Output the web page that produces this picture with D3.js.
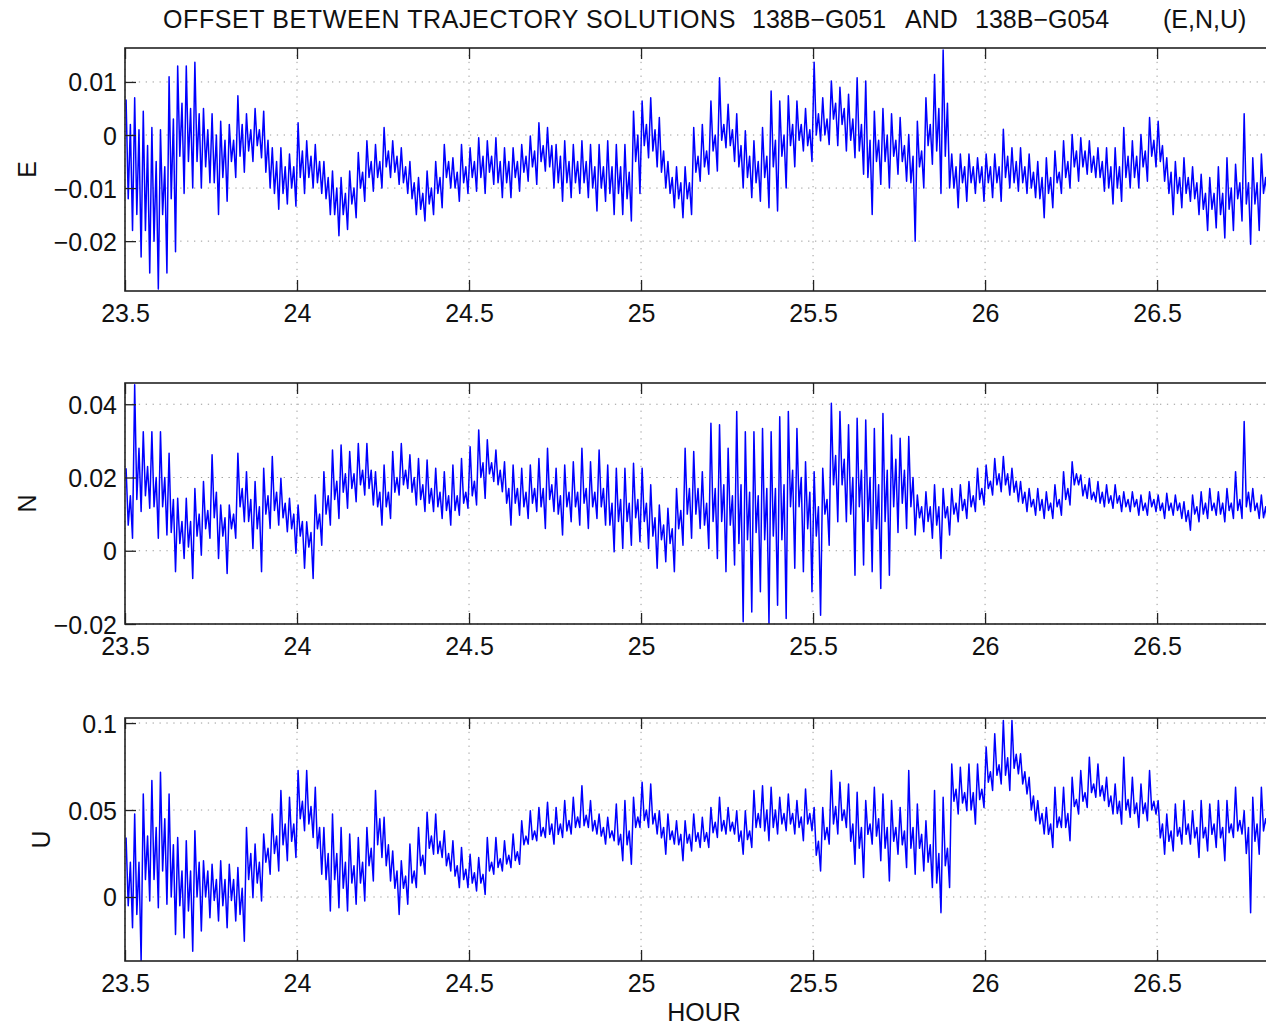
<!DOCTYPE html>
<meta charset="utf-8">
<script src="https://d3js.org/d3.v7.min.js"></script>
<style>
    body { margin: 0; background: #fff; }
    text { font-family: "Liberation Sans", Arial, Helvetica, sans-serif; fill: #111; }
</style>
<div id="chart"></div>
<script>
// ---- data: one value per 0.025 h bin starting at 23.5 h
// high / low = spike extremes (m), coreHigh / coreLow = edges of the dense band (mm)
const hourStart = 23.5, hourStep = 0.025;
const hourTicks = [23.5, 24, 24.5, 25, 25.5, 26, 26.5];

const eHigh = [0.0067, 0.007, 0.0045, 0.0014, 0.001, 0.011, 0.013, 0.013, 0.0137, 0.005, 0.004, 0.0026, 0.002, 0.0074, 0.004, 0.005, 0.0045, -0.0024, -0.0024, -0.0036,
  0.0023, -0.0011, -0.0018, -0.005, -0.0068, -0.008, -0.0068, -0.0033, -0.0011, -0.0018, 0.0014, -0.0011, -0.0024, -0.005, -0.008, -0.0068, -0.005, -0.0018,
  -0.0043, -0.0018, -0.0024, -0.0005, -0.0011, -0.0005, -0.0024, -0.0024, -0.0018, -0.0002, 0.0023, 0.0014, -0.0018, -0.0011, -0.0018, -0.0011, -0.0018, -0.0018, -0.0011, -0.0018,
  -0.0018, 0.0045, 0.0064, 0.007, 0.0033, -0.005, -0.006, -0.006, 0.0014, 0.002, 0.0064, 0.0108, 0.0058, 0.004, 0.0008, -0.0011, 0.0014, 0.0083, 0.0064, 0.0074, 0.0064, 0.005,
  0.0137, 0.007, 0.0102, 0.009, 0.0077, 0.0108,
  0.0102, 0.0045, 0.005, 0.004, 0.0033, 0.0001, 0.0026, 0.007, 0.0114, 0.016, -0.0036, -0.0036, -0.0036, -0.0043, -0.0036, -0.0036, 0.0011, -0.0024, -0.0024, -0.0036,
  -0.005, -0.0043, -0.003, -0.0011, 0.0001, -0.0005, -0.0011, -0.0024, -0.0024, -0.0024, 0.0014, -0.0011, 0.0001, 0.0033, 0.0026, -0.0043, -0.005, -0.0043, -0.006, -0.0074,
  -0.008, -0.006, -0.0043, -0.0055, 0.004, -0.0043, -0.0036];
const eLow = [-0.018, -0.023, -0.026, -0.029, -0.026, -0.022, -0.011, -0.01, -0.01, -0.009, -0.015, -0.0125, -0.008, -0.007, -0.005, -0.0043, -0.01, -0.014, -0.013, -0.0134,
  -0.011, -0.01, -0.011, -0.015, -0.019, -0.0178, -0.0156, -0.0125, -0.0106, -0.01, -0.008, -0.0093, -0.011, -0.015, -0.0162, -0.015, -0.0137, -0.01,
  -0.0125, -0.011, -0.0106, -0.011, -0.0093, -0.0118, -0.0118, -0.0106, -0.0087, -0.0093, -0.0068, -0.01, -0.0125, -0.0118, -0.011, -0.0118, -0.0143, -0.0125, -0.015, -0.015,
  -0.0162, -0.011, -0.0043, -0.006, -0.01, -0.0137, -0.0156, -0.015, -0.0087, -0.0074, -0.0068, -0.0024, -0.005, -0.01, -0.0118, -0.0125, -0.0137, -0.0143, -0.01, -0.006,
  -0.003, -0.005, -0.0011, -0.0018, -0.002, -0.003, -0.0043, -0.0074,
  -0.015, -0.0093, -0.01, -0.0074, -0.0087, -0.02, -0.01, -0.0055, -0.011, -0.01, -0.0137, -0.0125, -0.011, -0.0125, -0.0118, -0.0125, -0.01, -0.0106, -0.011, -0.0118,
  -0.0156, -0.0137, -0.011, -0.01, -0.0087, -0.0074, -0.008, -0.0106, -0.013, -0.0125, -0.01, -0.01, -0.0087, -0.006, -0.0087, -0.015, -0.0137, -0.0125, -0.015, -0.018,
  -0.0175, -0.0194, -0.018, -0.0162, -0.0206, -0.018, -0.0137];
const eCoreHigh = [2, 1, -2, -5, -6, 3, 6, 5, 4, 1, 0, -1, -1, 2, 1, 1, -1, -5, -6, -6,
  -3, -4, -5, -8, -10, -11, -10, -7, -5, -5, -3, -4, -6, -9, -11, -10, -8, -5,
  -7, -6, -5, -4, -4, -5, -5, -5, -4, -3, -2, -2, -4, -5, -5, -5, -6, -6, -6, -6,
  -7, 0, 2, 1, -3, -8, -9, -9, -4, -3, 0, 2, 1, -2, -4, -5, -4, -1, 0, 2, 2, 1, 4, 3, 6, 5, 3, 2,
  -1, -1, 0, -1, -2, -4, -3, 2, 5, 6, -6, -6, -6, -6, -6, -6, -4, -5, -6, -7,
  -8, -8, -7, -5, -3, -3, -4, -5, -6, -6, -4, -4, -3, -1, -2, -7, -8, -8, -9, -11, -11, -11, -10, -9, -9, -9, -8];
const eCoreLow = [-12, -15, -18, -20, -15, -12, -4, -5, -5, -6, -9, -8, -5, -4, -3, -2, -7, -11, -11, -10,
  -8, -8, -9, -12, -15, -15, -13, -10, -8, -8, -6, -7, -9, -12, -14, -13, -11, -8,
  -10, -9, -8, -8, -7, -9, -9, -8, -7, -6, -5, -6, -9, -9, -9, -9, -10, -10, -11, -11,
  -12, -5, -2, -3, -7, -11, -12, -12, -7, -6, -3, -1, -2, -6, -8, -9, -8, -6, -4, -2, -1, -2, 0, 0, 3, 2, -1, -3,
  -8, -5, -5, -4, -5, -9, -6, -2, -3, -4, -10, -9, -9, -9, -9, -9, -8, -9, -9, -10,
  -12, -11, -9, -8, -6, -6, -7, -8, -10, -10, -8, -8, -6, -4, -5, -11, -11, -11, -12, -14, -14, -15, -14, -12, -13, -13, -11];

const nHigh = [0.0225, 0.0453, 0.0325, 0.0325, 0.0325, 0.0266, 0.0143, 0.0143, 0.017, 0.0189, 0.0262, 0.0125, 0.0125, 0.0266, 0.0216, 0.0189, 0.0225, 0.0257, 0.0198, 0.0143,
  0.0125, 0.0079, 0.0152, 0.0216, 0.0275, 0.0289, 0.0271, 0.0293, 0.0293, 0.0216, 0.0234, 0.0271, 0.0293, 0.0262, 0.0252, 0.0248, 0.0225, 0.0216,
  0.0234, 0.0252, 0.0284, 0.033, 0.0303, 0.0275, 0.0243, 0.0234, 0.0225, 0.0234, 0.0252, 0.028, 0.0225, 0.0234, 0.0243, 0.028, 0.0243, 0.0275, 0.0234, 0.0225,
  0.0225, 0.0239, 0.0225, 0.018, 0.0125, 0.0116, 0.017, 0.028, 0.0271, 0.0216, 0.0348, 0.0344, 0.028, 0.038, 0.0325, 0.0325, 0.0334, 0.0325, 0.0366, 0.038,
  0.0334, 0.0243, 0.0216, 0.0225, 0.0403, 0.038, 0.0344, 0.0362,
  0.0357, 0.0334, 0.0375, 0.0316, 0.0307, 0.0312, 0.0152, 0.0161, 0.018, 0.017, 0.017, 0.018, 0.0189, 0.0225, 0.0234, 0.0252, 0.0257, 0.0225, 0.0189, 0.017,
  0.017, 0.0161, 0.018, 0.0216, 0.0243, 0.0207, 0.0198, 0.0189, 0.018, 0.018, 0.0161, 0.0161, 0.0152, 0.0161, 0.0152, 0.0157, 0.0152, 0.0134, 0.0152, 0.0161,
  0.017, 0.0161, 0.017, 0.0216, 0.0353, 0.017, 0.0152];
const nLow = [0.0034, 0.0107, 0.0116, 0.0034, 0.0043, -0.0057, -0.0021, -0.0076, -0.0012, 0.0034, -0.0021, -0.0062, 0.0034, 0.0079, 0.0006, -0.0057, 0.0061, 0.007, 0.0052, -0.0007,
  -0.0048, -0.0076, 0.0015, 0.007, 0.0088, 0.0116, 0.0134, 0.0152, 0.0125, 0.007, 0.0088, 0.0152, 0.017, 0.0125, 0.0107, 0.0107, 0.0088, 0.007,
  0.0097, 0.0116, 0.0125, 0.0143, 0.0189, 0.0161, 0.007, 0.0097, 0.0088, 0.0107, 0.0061, 0.0107, 0.0043, 0.0079, 0.007, 0.0061, 0.0088, 0.007, -0.0003, 0.0006,
  0.0015, 0.0025, 0.0006, -0.0048, -0.003, -0.0057, 0.0015, 0.0034, 0.0061, 0.0006, -0.0021, -0.0057, -0.0039, -0.0194, -0.0167, -0.0112, -0.0199, -0.0149, -0.0185, -0.0048,
  -0.0057, -0.0112, -0.0176, 0.0015, 0.0079, 0.0079, -0.0067, -0.0039,
  -0.0057, -0.0103, -0.0067, 0.005, 0.0061, 0.0043, 0.0052, 0.0034, -0.0021, 0.0043, 0.0079, 0.0088, 0.0107, 0.0125, 0.0152, 0.0161, 0.0152, 0.0134, 0.0107, 0.0097,
  0.0088, 0.0088, 0.0097, 0.0125, 0.018, 0.0143, 0.0134, 0.012, 0.0116, 0.0107, 0.0107, 0.0097, 0.0097, 0.0107, 0.0088, 0.0097, 0.0088, 0.0056, 0.0079, 0.0088,
  0.0097, 0.0079, 0.0088, 0.0088, 0.0107, 0.0088, 0.0061];
const nCoreHigh = [15, 28, 23, 20, 20, 14, 8, 8, 10, 11, 16, 9, 10, 17, 14, 12, 15, 16, 13, 10,
  8, 5, 10, 15, 19, 21, 21, 22, 22, 16, 16, 20, 22, 20, 18, 17, 16, 15,
  15, 16, 19, 24, 24, 22, 17, 17, 16, 17, 17, 18, 15, 16, 16, 17, 16, 17, 13, 14,
  13, 14, 13, 9, 7, 6, 11, 17, 17, 13, 17, 18, 15, 18, 16, 15, 17, 17, 18, 22, 20, 16, 12, 14, 26, 25, 20, 22,
  20, 18, 22, 25, 22, 20, 12, 12, 12, 12, 13, 14, 15, 17, 19, 21, 21, 19, 16, 14,
  14, 13, 14, 17, 21, 18, 16, 16, 15, 15, 14, 14, 13, 14, 13, 13, 13, 11, 12, 13, 13, 13, 13, 14, 16, 13, 12];
const nCoreLow = [7, 14, 15, 12, 12, 5, 2, 1, 4, 6, 9, 4, 6, 12, 8, 6, 10, 11, 9, 6,
  4, 1, 6, 10, 14, 16, 17, 18, 17, 12, 12, 16, 18, 16, 14, 13, 12, 11,
  11, 13, 15, 20, 21, 18, 13, 13, 12, 13, 12, 14, 10, 12, 12, 13, 12, 12, 7, 8,
  8, 9, 8, 4, 3, 2, 6, 10, 10, 7, 8, 8, 7, 2, 3, 5, 3, 4, 3, 12, 12, 6, 4, 10, 18, 18, 10, 12,
  8, 6, 8, 12, 13, 12, 9, 8, 7, 9, 10, 11, 12, 14, 17, 18, 18, 16, 13, 12,
  11, 11, 12, 14, 18, 15, 14, 13, 13, 13, 12, 12, 11, 12, 11, 11, 11, 8, 10, 10, 11, 10, 11, 11, 12, 11, 9];

const uHigh = [0.0342, 0.0477, 0.0592, 0.0669, 0.0717, 0.0592, 0.0342, 0.0323, 0.0381, 0.0208, 0.0188, 0.0208, 0.0188, 0.0169, 0.04, 0.0304, 0.0362, 0.0477, 0.0612, 0.0573,
  0.0727, 0.0727, 0.0631, 0.04, 0.0477, 0.04, 0.0362, 0.0342, 0.04, 0.0612, 0.0458, 0.0265, 0.0208, 0.0304, 0.04, 0.0487, 0.0477, 0.0381,
  0.0323, 0.0285, 0.0246, 0.0227, 0.0342, 0.0342, 0.0323, 0.0362, 0.0438, 0.0496, 0.0515, 0.0544, 0.0515, 0.0554, 0.0573, 0.064, 0.0554, 0.0477, 0.0458, 0.0535,
  0.0554, 0.0573, 0.066, 0.065, 0.0496, 0.0477, 0.0438, 0.0438, 0.0477, 0.0458, 0.0515, 0.0573, 0.0515, 0.0496, 0.0496, 0.0612, 0.064, 0.0631, 0.0573, 0.0592,
  0.0554, 0.0621, 0.0515, 0.0515, 0.0727, 0.066, 0.065, 0.0602,
  0.0554, 0.0631, 0.0592, 0.0554, 0.0515, 0.0727, 0.0535, 0.0438, 0.0612, 0.0573, 0.0765, 0.0746, 0.0765, 0.0765, 0.0862, 0.0938, 0.1015, 0.1015, 0.0823, 0.0688,
  0.0554, 0.0515, 0.0631, 0.0631, 0.0688, 0.0727, 0.0804, 0.0765, 0.0688, 0.065, 0.0804, 0.0688, 0.065, 0.0727, 0.0554, 0.0477, 0.0535, 0.0554, 0.0496, 0.0554,
  0.0535, 0.0554, 0.0554, 0.0631, 0.0496, 0.0573, 0.0631];
const uLow = [-0.0177, -0.0369, -0.0023, -0.0062, -0.0042, -0.0215, -0.0235, -0.0312, -0.0196, -0.0119, -0.0138, -0.0177, -0.0138, -0.0254, -0.0004, -0.0023, 0.0131, 0.015, 0.0208, 0.0227,
  0.0381, 0.0342, 0.0131, -0.0081, -0.0062, -0.0081, -0.0042, -0.0023, 0.0092, 0.0227, 0.0092, -0.01, -0.0042, 0.0054, 0.0131, 0.0246, 0.0227, 0.015,
  0.0054, 0.0054, 0.0035, 0.0015, 0.0131, 0.015, 0.0169, 0.0188, 0.0304, 0.0323, 0.0342, 0.0304, 0.0342, 0.0362, 0.04, 0.04, 0.0362, 0.0304, 0.0323, 0.0208,
  0.0188, 0.04, 0.04, 0.0362, 0.0246, 0.0304, 0.0208, 0.0265, 0.0285, 0.0285, 0.0342, 0.0362, 0.0362, 0.0246, 0.0285, 0.04, 0.0323, 0.0362, 0.0381, 0.0362,
  0.0323, 0.0381, 0.015, 0.0304, 0.0362, 0.04, 0.0188, 0.0112,
  0.0304, 0.0208, 0.0092, 0.0246, 0.0169, 0.0131, 0.015, 0.0054, -0.009, 0.0054, 0.0477, 0.0496, 0.0419, 0.0515, 0.0612, 0.065, 0.0612, 0.0708, 0.0592, 0.0438,
  0.0362, 0.0285, 0.04, 0.0323, 0.0477, 0.0515, 0.0573, 0.0554, 0.0477, 0.0419, 0.0458, 0.04, 0.0438, 0.0477, 0.0246, 0.0265, 0.0304, 0.0304, 0.0227, 0.0265,
  0.0285, 0.0208, 0.0342, 0.0362, -0.009, 0.0246, 0.0381];
const uCoreHigh = [20, 20, 35, 40, 45, 30, 15, 15, 20, 15, 10, 10, 10, 5, 25, 20, 28, 35, 42, 42,
  55, 52, 40, 25, 25, 20, 18, 20, 28, 45, 30, 15, 12, 15, 24, 35, 32, 25,
  18, 16, 14, 13, 20, 22, 24, 26, 35, 38, 40, 42, 42, 44, 46, 47, 44, 40, 38, 36,
  38, 46, 50, 48, 40, 38, 36, 36, 37, 37, 43, 44, 43, 38, 38, 48, 50, 50, 48, 48, 46, 48, 32, 40, 52, 50, 42, 40,
  42, 45, 40, 40, 38, 40, 36, 30, 25, 28, 62, 60, 60, 62, 72, 76, 80, 82, 72, 58,
  48, 42, 46, 48, 56, 60, 65, 64, 58, 55, 56, 54, 54, 55, 42, 38, 40, 42, 40, 40, 42, 40, 42, 44, 40, 42, 45];
const uCoreLow = [-5, -10, 10, 10, 15, 0, -5, -8, 0, 0, -2, -5, -2, -10, 10, 8, 20, 25, 30, 32,
  45, 42, 28, 10, 10, 5, 8, 8, 18, 30, 18, 5, 5, 8, 18, 28, 25, 18,
  12, 10, 8, 8, 15, 17, 19, 21, 30, 33, 35, 36, 36, 38, 40, 41, 38, 35, 34, 30,
  30, 40, 44, 42, 34, 33, 30, 31, 32, 32, 37, 38, 38, 32, 33, 40, 38, 40, 42, 42, 40, 42, 24, 33, 42, 44, 32, 28,
  36, 35, 28, 32, 30, 28, 28, 20, 8, 18, 55, 54, 50, 56, 66, 70, 70, 74, 65, 50,
  42, 36, 40, 40, 52, 55, 60, 58, 52, 48, 50, 48, 48, 50, 34, 32, 35, 36, 34, 34, 36, 34, 37, 38, 25, 32, 38];

const eTicks = [-0.02, -0.01, 0, 0.01];
const nTicks = [-0.02, 0, 0.02, 0.04];
const uTicks = [0, 0.05, 0.1];

const titleParts = ["OFFSET BETWEEN TRAJECTORY SOLUTIONS", "138B\u2212G051", "AND", "138B\u2212G054", "(E,N,U)"];

// ---- layout
const W = 1266, H = 1027;
const left = 125, right = 1283;
const fontSize = 25;

const panels = [
    {label: "E", high: eHigh, low: eLow, coreHigh: eCoreHigh, coreLow: eCoreLow, ticks: eTicks, domain: [-0.0294, 0.0164], top: 48, bottom: 291},
    {label: "N", high: nHigh, low: nLow, coreHigh: nCoreHigh, coreLow: nCoreLow, ticks: nTicks, domain: [-0.0200, 0.0458], top: 383, bottom: 624},
    {label: "U", high: uHigh, low: uLow, coreHigh: uCoreHigh, coreLow: uCoreLow, ticks: uTicks, domain: [-0.0368, 0.1029], top: 718, bottom: 961}
];

const svg = d3.select("#chart").append("svg")
    .attr("width", W).attr("height", H)
    .style("font-size", fontSize + "px");

const x = d3.scaleLinear().domain([23.5, 26.866]).range([left, right]);

const fmt = v => v === 0 ? "0" : String(v).replace("-", "\u2212");

panels.forEach(function(p, k) {
    const y = d3.scaleLinear().domain(p.domain).range([p.bottom, p.top]);
    const g = svg.append("g");

    // dotted grid
    g.selectAll("hgrid").data(p.ticks).join("line")
        .attr("x1", left).attr("x2", right)
        .attr("y1", d => y(d)).attr("y2", d => y(d))
        .attr("stroke", "#9a9a9a").attr("stroke-width", 1).attr("stroke-dasharray", "1.3,5.6");
    g.selectAll("vgrid").data(hourTicks).join("line")
        .attr("x1", d => x(d)).attr("x2", d => x(d))
        .attr("y1", p.top).attr("y2", p.bottom)
        .attr("stroke", "#9a9a9a").attr("stroke-width", 1).attr("stroke-dasharray", "1.3,5.6");

    // trace: in every bin go to the spike high, the band low, the band high, the spike low
    const pts = [];
    p.high.forEach(function(hi, i) {
        const h0 = hourStart + i * hourStep;
        pts.push([h0 + hourStep * 0.125, hi]);
        pts.push([h0 + hourStep * 0.375, p.coreLow[i] / 1000]);
        pts.push([h0 + hourStep * 0.625, p.coreHigh[i] / 1000]);
        pts.push([h0 + hourStep * 0.875, p.low[i]]);
    });
    g.append("clipPath").attr("id", "clip" + k)
        .append("rect").attr("x", left).attr("y", p.top)
        .attr("width", right - left).attr("height", p.bottom - p.top);
    g.append("path")
        .datum(pts)
        .attr("clip-path", `url(#clip${k})`)
        .attr("fill", "none")
        .attr("stroke", "#0000ff")
        .attr("stroke-width", 1.5)
        .attr("stroke-linejoin", "round")
        .attr("d", d3.line().x(d => x(d[0])).y(d => y(d[1])));

    // axes (ticks pointing inwards, like the original)
    const xb = g.append("g").attr("transform", `translate(0,${p.bottom})`)
        .call(d3.axisBottom(x).tickValues(hourTicks).tickSizeInner(-11).tickSizeOuter(0).tickPadding(0).tickFormat(d3.format("")));
    xb.selectAll("text").attr("dy", null).attr("y", 31).style("font-size", fontSize + "px");
    const xt = g.append("g").attr("transform", `translate(0,${p.top})`)
        .call(d3.axisTop(x).tickValues(hourTicks).tickSizeInner(-11).tickSizeOuter(0).tickFormat(""));
    const yl = g.append("g").attr("transform", `translate(${left},0)`)
        .call(d3.axisLeft(y).tickValues(p.ticks).tickSizeInner(-11).tickSizeOuter(0).tickPadding(8).tickFormat(fmt));
    yl.selectAll("text").attr("x", -8).attr("dy", "0.36em").style("font-size", fontSize + "px");
    [xb, xt, yl].forEach(a => {
        a.select(".domain").remove();
        a.selectAll(".tick line").attr("stroke", "#222").attr("stroke-width", 1.3);
        a.selectAll("text").attr("fill", "#111").style("font-family", "'Liberation Sans', Arial, sans-serif");
    });

    // axis box
    g.append("rect")
        .attr("x", left).attr("y", p.top)
        .attr("width", right - left).attr("height", p.bottom - p.top)
        .attr("fill", "none").attr("stroke", "#222").attr("stroke-width", 1.6);

    // y label placed just left of the widest tick label
    let minX = Infinity;
    yl.selectAll("text").each(function() { minX = Math.min(minX, this.getBBox().x); });
    const lx = left + minX - 18;
    g.append("text")
        .attr("transform", `translate(${lx},${(p.top + p.bottom) / 2}) rotate(-90)`)
        .attr("text-anchor", "middle")
        .text(p.label);
});

// x label
svg.append("text")
    .attr("x", (left + right) / 2).attr("y", 1021)
    .attr("text-anchor", "middle")
    .text("HOUR");

// title: pieces separated by wide gaps, as in the original
const titleX = [163, 752, 905, 975, 1163];
svg.selectAll("titlePart").data(titleParts).join("text")
    .attr("x", (d, i) => titleX[i]).attr("y", 28)
    .style("letter-spacing", (d, i) => i === 0 ? "0.6px" : null)
    .text(d => d);
</script>
